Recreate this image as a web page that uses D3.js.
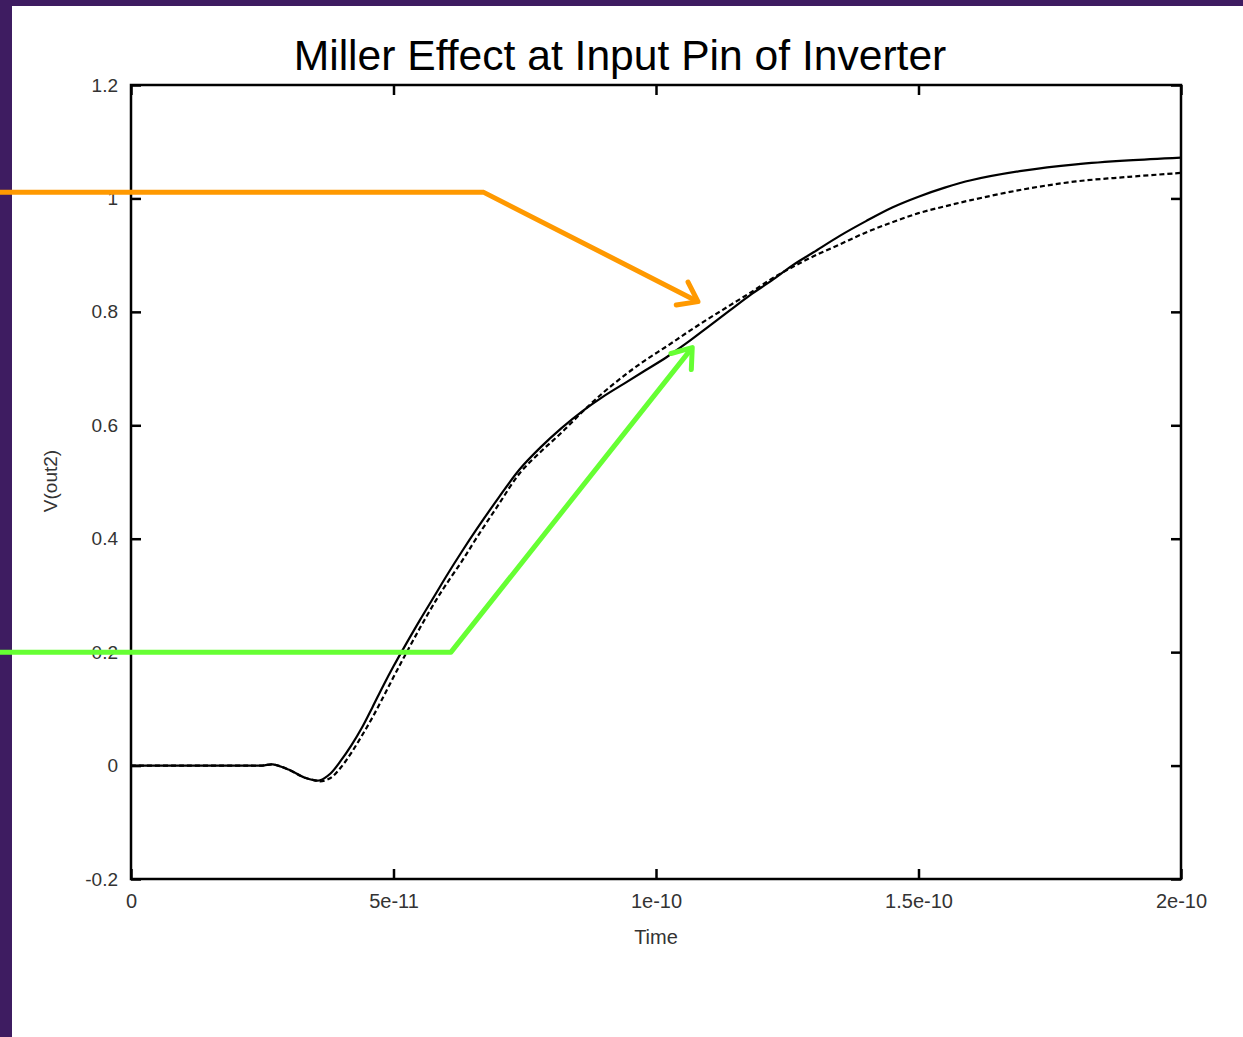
<!DOCTYPE html>
<html>
<head>
<meta charset="utf-8">
<script src="https://cdn.jsdelivr.net/npm/d3@7"></script>
<style>
  html, body { margin: 0; padding: 0; background: #fff; }
  svg { display: block; }
  text { font-family: Arial, "Liberation Sans", Helvetica, sans-serif; }
</style>
</head>
<body>
<script>
// Simulated output voltage V(out2) versus time (ps), two runs.
const timePs = [0,10,20,25,27,30,33,35,36,38,40,42,44,46,48,50,52,55,58,60,63,66,70,74,78,82,86,90,94,98,102,106,110,114,118,122,126,130,135,140,145,150,155,160,170,180,190,200];
const vSolid = [0,0,0,0,0.002,-0.007,-0.021,-0.026,-0.026,-0.014,0.009,0.036,0.067,0.103,0.140,0.175,0.208,0.256,0.302,0.333,0.377,0.419,0.472,0.522,0.561,0.595,0.625,0.651,0.674,0.697,0.720,0.746,0.774,0.802,0.830,0.855,0.882,0.905,0.934,0.960,0.984,1.003,1.019,1.032,1.049,1.060,1.067,1.072];
const vDashed = [0,0,0,0,0.002,-0.007,-0.021,-0.026,-0.028,-0.022,-0.003,0.023,0.053,0.085,0.120,0.156,0.191,0.242,0.290,0.319,0.360,0.404,0.460,0.515,0.553,0.587,0.624,0.658,0.688,0.715,0.739,0.764,0.788,0.811,0.834,0.858,0.879,0.898,0.919,0.940,0.958,0.974,0.986,0.997,1.016,1.030,1.038,1.045];

// Axis ticks
const xTicks = [0, 5e-11, 1e-10, 1.5e-10, 2e-10];
const xTickLabels = ["0", "5e-11", "1e-10", "1.5e-10", "2e-10"];
const yTicks = [-0.2, 0, 0.2, 0.4, 0.6, 0.8, 1, 1.2];
const yTickLabels = ["-0.2", "0", "0.2", "0.4", "0.6", "0.8", "1", "1.2"];

// Annotation arrows (time in ps, voltage)
const orangeArrowT = [-25, 67.2, 108];
const orangeArrowV = [1.0107, 1.0107, 0.818];
const greenArrowT = [-25, 60.95, 106.9];
const greenArrowV = [0.2, 0.2, 0.737];

const W = 1243, H = 1037;
const svg = d3.select("body").append("svg").attr("width", W).attr("height", H);

svg.append("rect").attr("width", W).attr("height", H).attr("fill", "#fff");
// slide border
svg.append("rect").attr("x", 0).attr("y", 0).attr("width", 12).attr("height", H).attr("fill", "#3e1c61");
svg.append("rect").attr("x", 0).attr("y", 0).attr("width", W).attr("height", 6).attr("fill", "#3e1c61");

const x = d3.scaleLinear().domain([0, 2e-10]).range([131, 1181]);
const y = d3.scaleLinear().domain([-0.2, 1.2]).range([879, 85]);

// Title
svg.append("text")
  .attr("x", 620).attr("y", 70)
  .attr("text-anchor", "middle")
  .attr("font-size", 42.6)
  .attr("fill", "#000")
  .text("Miller Effect at Input Pin of Inverter");

// Axes with inward ticks on all four sides
const axisColor = "#000";
const tickLen = 10;

const gLeft = svg.append("g").attr("transform", `translate(${x(0)},0)`)
  .call(d3.axisLeft(y).tickValues(yTicks).tickSizeInner(-tickLen).tickSizeOuter(0).tickPadding(13)
    .tickFormat((d, i) => yTickLabels[i]));
const gRight = svg.append("g").attr("transform", `translate(${x(2e-10)},0)`)
  .call(d3.axisRight(y).tickValues(yTicks).tickSizeInner(-tickLen).tickSizeOuter(0).tickFormat(""));
const gBottom = svg.append("g").attr("transform", `translate(0,${y(-0.2)})`)
  .call(d3.axisBottom(x).tickValues(xTicks).tickSizeInner(-tickLen).tickSizeOuter(0).tickPadding(15)
    .tickFormat((d, i) => xTickLabels[i]));
const gTop = svg.append("g").attr("transform", `translate(0,${y(1.2)})`)
  .call(d3.axisTop(x).tickValues(xTicks).tickSizeInner(-tickLen).tickSizeOuter(0).tickFormat(""));

[gLeft, gRight, gBottom, gTop].forEach(g => {
  g.select(".domain").remove();
  g.selectAll(".tick line").attr("stroke", axisColor).attr("stroke-width", 2.5);
  g.selectAll(".tick text").attr("fill", "#333").attr("font-size", 20)
    .attr("font-family", "Arial, 'Liberation Sans', sans-serif");
});
gLeft.selectAll(".tick text").attr("font-size", 19);

// Plot frame
svg.append("rect")
  .attr("x", x(0)).attr("y", y(1.2))
  .attr("width", x(2e-10) - x(0)).attr("height", y(-0.2) - y(1.2))
  .attr("fill", "none").attr("stroke", "#000").attr("stroke-width", 2.5);

// Axis titles
svg.append("text")
  .attr("x", x(1e-10)).attr("y", 944)
  .attr("text-anchor", "middle").attr("font-size", 20).attr("fill", "#333")
  .text("Time");
svg.append("text")
  .attr("transform", `translate(57,481) rotate(-90)`)
  .attr("text-anchor", "middle").attr("font-size", 19).attr("fill", "#333")
  .text("V(out2)");

// Curves
const line = d3.line()
  .x(d => x(d[0] * 1e-12))
  .y(d => y(d[1]))
  .curve(d3.curveCatmullRom.alpha(0.5));

const plot = svg.append("g");
plot.append("path")
  .datum(timePs.map((t, i) => [t, vDashed[i]]))
  .attr("d", line)
  .attr("fill", "none").attr("stroke", "#000").attr("stroke-width", 2.2)
  .attr("stroke-dasharray", "5,3");
plot.append("path")
  .datum(timePs.map((t, i) => [t, vSolid[i]]))
  .attr("d", line)
  .attr("fill", "none").attr("stroke", "#000").attr("stroke-width", 2.2);

// Annotation arrows with open chevron heads
function drawArrow(ts, vs, color) {
  const pts = ts.map((t, i) => [x(t * 1e-12), y(vs[i])]);
  const g = svg.append("g")
    .attr("fill", "none").attr("stroke", color).attr("stroke-width", 5)
    .attr("stroke-linecap", "round").attr("stroke-linejoin", "round");
  g.append("path").attr("d", d3.line()(pts)).attr("stroke-linecap", "butt");
  const [x1, y1] = pts[pts.length - 2];
  const [x2, y2] = pts[pts.length - 1];
  const ang = Math.atan2(y2 - y1, x2 - x1);
  const len = 22, spread = Math.PI / 5;
  const b1 = [x2 - len * Math.cos(ang - spread), y2 - len * Math.sin(ang - spread)];
  const b2 = [x2 - len * Math.cos(ang + spread), y2 - len * Math.sin(ang + spread)];
  g.append("path").attr("d", d3.line()([b1, [x2, y2], b2]));
}
drawArrow(orangeArrowT, orangeArrowV, "#ff9900");
drawArrow(greenArrowT, greenArrowV, "#66ff33");
</script>
</body>
</html>
